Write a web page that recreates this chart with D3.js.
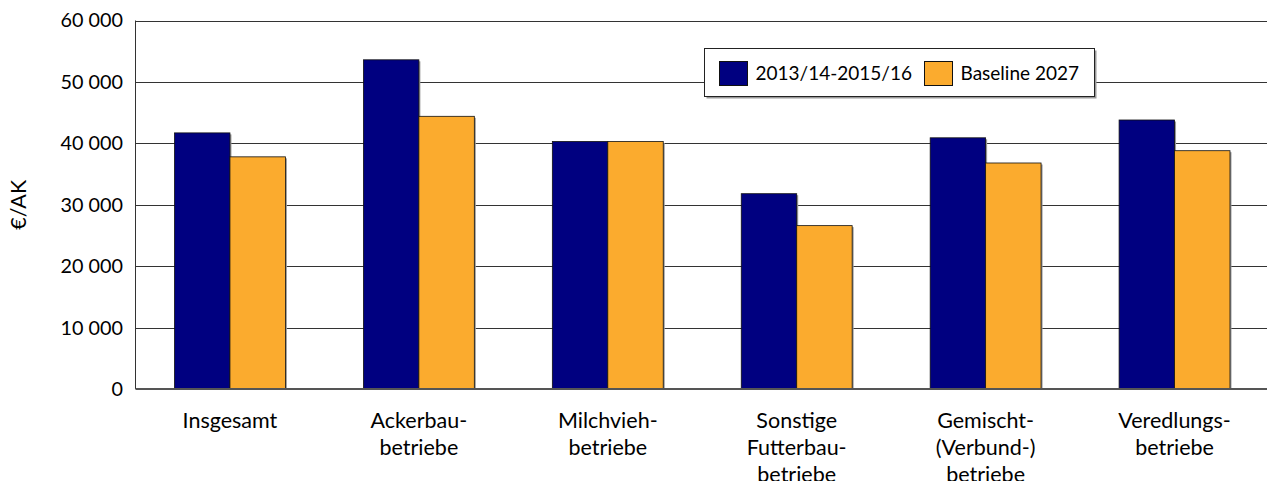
<!DOCTYPE html>
<html>
<head>
<meta charset="utf-8">
<script src="https://cdn.jsdelivr.net/npm/d3@7"></script>
<style>
  body { margin: 0; background: #fff; }
  svg { display: block; font-family: Lato, "Open Sans", sans-serif; }
</style>
</head>
<body>
<svg id="chart"></svg>
<script>
var width = 1267;
var height = 481;

// data
var categories = ['Insgesamt', 'Ackerbau-\nbetriebe', 'Milchvieh-\nbetriebe',
  'Sonstige\nFutterbau-\nbetriebe', 'Gemischt-\n(Verbund-)\nbetriebe', 'Veredlungs-\nbetriebe'];
var seriesNames = ['2013/14-2015/16', 'Baseline 2027'];
var base = [41700, 53600, 40300, 31800, 40900, 43800];
var baseline2027 = [37800, 44400, 40300, 26600, 36800, 38800];
var yTicks = [0, 10000, 20000, 30000, 40000, 50000, 60000];
var colors = ['#000080', '#fbab2e'];

var margin = {top: 20.5, left: 135.5, bottom: 92, right: -2};

var svg = d3.select('#chart').attr('width', width).attr('height', height);

var rows = categories.map(function (c, i) {
  return {cat: c, values: [base[i], baseline2027[i]]};
});

var x0 = d3.scaleBand()
  .domain(categories)
  .range([margin.left, width - margin.right])
  .paddingInner(0.413)
  .paddingOuter(0.2065);

var x1 = d3.scaleBand()
  .domain(d3.range(seriesNames.length))
  .range([0, x0.bandwidth()]);

var y = d3.scaleLinear()
  .domain([0, 60000])
  .range([389, margin.top]);

var fmt = d3.formatLocale({decimal: ',', thousands: ' ', grouping: [3], currency: ['', '€']}).format(',d');

// gridlines
svg.append('g')
  .selectAll('line')
  .data(yTicks.filter(function (t) { return t > 0; }))
  .enter().append('line')
  .attr('x1', margin.left).attr('x2', width)
  .attr('y1', function (d) { return Math.round(y(d)) + 0.5; })
  .attr('y2', function (d) { return Math.round(y(d)) + 0.5; })
  .attr('stroke', '#333').attr('stroke-width', 1.2);

// tick labels
svg.append('g')
  .selectAll('text')
  .data(yTicks)
  .enter().append('text')
  .attr('x', 123)
  .attr('y', function (d) { return y(d); })
  .attr('dy', '0.35em')
  .attr('text-anchor', 'end')
  .attr('font-size', 19.8)
  .attr('fill', '#000')
  .text(fmt);

// bars
var groups = svg.append('g')
  .selectAll('g')
  .data(rows)
  .enter().append('g')
  .attr('transform', function (d) { return 'translate(' + x0(d.cat) + ',0)'; });

groups.selectAll('rect.shadow')
  .data(function (d) { return d.values; })
  .enter().append('rect')
  .attr('class', 'shadow')
  .attr('x', function (d, i) { return x1(i) + 1.5; })
  .attr('y', function (d) { return y(d) + 1.5; })
  .attr('width', x1.bandwidth())
  .attr('height', function (d) { return y(0) - y(d) - 1.5; })
  .attr('fill', '#999');

groups.selectAll('rect.bar')
  .data(function (d) { return d.values; })
  .enter().append('rect')
  .attr('class', 'bar')
  .attr('x', function (d, i) { return x1(i); })
  .attr('y', function (d) { return y(d); })
  .attr('width', x1.bandwidth())
  .attr('height', function (d) { return y(0) - y(d); })
  .attr('fill', function (d, i) { return colors[i]; })
  .attr('stroke', '#111').attr('stroke-width', 0.8);

// axes lines
svg.append('line')
  .attr('x1', margin.left).attr('x2', margin.left)
  .attr('y1', margin.top).attr('y2', y(0))
  .attr('stroke', '#333').attr('stroke-width', 1);
svg.append('line')
  .attr('x1', margin.left).attr('x2', width)
  .attr('y1', y(0)).attr('y2', y(0))
  .attr('stroke', '#555').attr('stroke-width', 2);

// category labels
var labels = svg.append('g')
  .selectAll('text')
  .data(categories)
  .enter().append('text')
  .attr('text-anchor', 'middle')
  .attr('font-size', 21.5)
  .attr('fill', '#000');
labels.each(function (c) {
  var t = d3.select(this);
  c.split('\n').forEach(function (line, i) {
    t.append('tspan')
      .attr('x', x0(c) + x0.bandwidth() / 2)
      .attr('y', 420 + i * 27)
      .attr('dy', '0.35em')
      .text(line);
  });
});

// y label
svg.append('text')
  .attr('transform', 'translate(18,' + (y(30000)) + ') rotate(-90)')
  .attr('text-anchor', 'middle')
  .attr('dy', '0.35em')
  .attr('font-size', 21.5)
  .text('€/AK');

// legend
var legend = svg.append('g');
legend.append('rect')
  .attr('x', 706.5).attr('y', 50.5).attr('width', 390).attr('height', 48)
  .attr('fill', '#999');
legend.append('rect')
  .attr('x', 704.5).attr('y', 48.5).attr('width', 390).attr('height', 48)
  .attr('fill', '#fff').attr('stroke', '#222').attr('stroke-width', 1);
var swatchX = [719.5, 924.5];
seriesNames.forEach(function (name, i) {
  legend.append('rect')
    .attr('x', swatchX[i]).attr('y', 61.5).attr('width', 28).attr('height', 24)
    .attr('fill', colors[i]).attr('stroke', '#111').attr('stroke-width', 1);
  legend.append('text')
    .attr('x', swatchX[i] + 36).attr('y', 73.5)
    .attr('dy', '0.35em')
    .attr('font-size', 19)
    .text(name);
});
</script>
</body>
</html>
